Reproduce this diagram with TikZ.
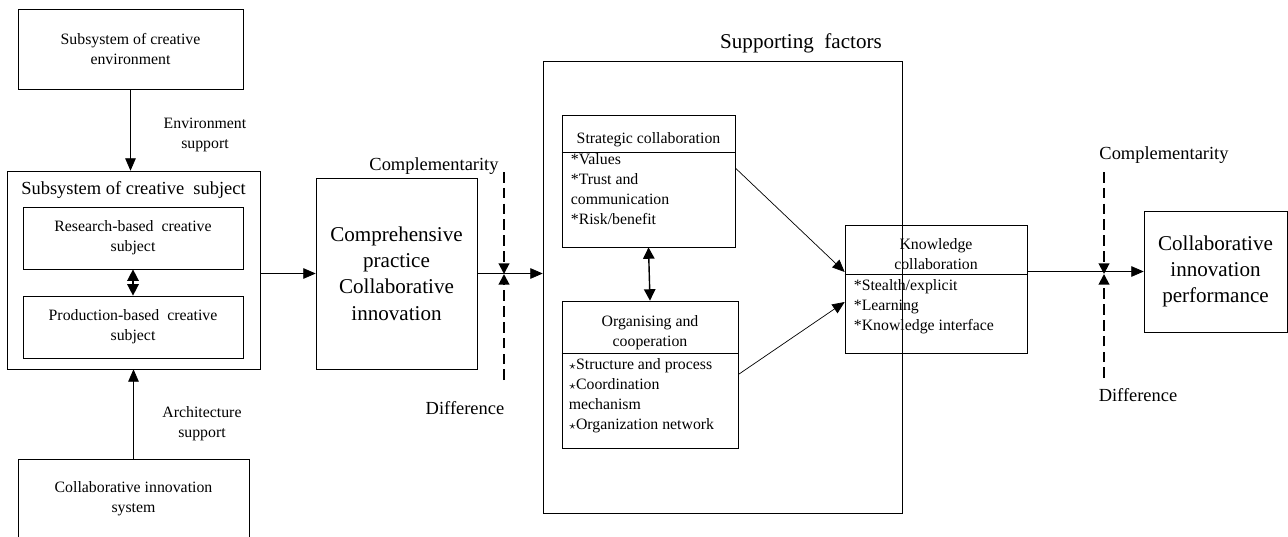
\documentclass[tikz,border=0pt]{standalone}
\usepackage{fontspec}
\setmainfont{Liberation Serif}
\usetikzlibrary{positioning}
\usetikzlibrary{arrows.meta}
\usetikzlibrary{calc}

\begin{document}
\begin{tikzpicture}
[x=0.02cm,y=-0.02cm,
  box/.style={shape=rectangle,draw=black,thin,inner sep=0pt},
  small/.style={font=\fontsize{9}{11.3}\selectfont,align=center},
  big/.style={font=\fontsize{12}{15}\selectfont,align=center},
  label/.style={font=\fontsize{10.5}{12}\selectfont},
  item/.style={font=\fontsize{9}{11.3}\selectfont,align=left,anchor=north west,inner sep=2pt},
  arrow/.style={thin,-{Triangle[length=7pt,width=6pt]}},
  dual/.style={thick,{Triangle[length=6.5pt,width=6.5pt]}-{Triangle[length=6.5pt,width=6.5pt]}},
  divide/.style={line width=1.1pt,dash pattern=on 6pt off 3pt,-{Triangle[length=6pt,width=6pt]}}]

\useasboundingbox (0,0) rectangle (1288,537);

% left column: subsystems
\node (env) [box,small,minimum width=4.5cm,minimum height=1.6cm] at (130.5,49) {Subsystem of creative\\environment};
\node (subj) [box,minimum width=5.06cm,minimum height=3.96cm] at (133.5,270) {};
\node (subjtitle) [font=\fontsize{10.5}{12}\selectfont] at (133.5,190) {Subsystem of creative\ \ subject};
\node (res) [box,small,minimum width=4.4cm,minimum height=1.24cm] at (133,238) {Research-based\ \ creative\\subject};
\node (prod) [box,small,minimum width=4.4cm,minimum height=1.24cm] at (133,327) {Production-based\ \ creative\\subject};
\node (arch) [box,small,minimum width=4.62cm,minimum height=1.6cm] at (133.5,499) {Collaborative innovation\\system};
\node (envsup) [small] at (205,135) {Environment\\support};
\node (archsup) [small] at (202,424) {Architecture\\support};

\draw [arrow] (env.south) -- (env.south |- subj.north);
\draw [arrow] (arch.north) -- (arch.north |- subj.south);
\draw [dual] (res.south) -- (prod.north);

% comprehensive practice
\node (comp) [box,big,minimum width=3.22cm,minimum height=3.82cm] at (396.5,273.5) {Comprehensive\\practice\\Collaborative\\innovation};
\draw [arrow] (subj.east |- comp.west) -- (comp.west);

% supporting factors
\node (big) [box,minimum width=7.18cm,minimum height=9.04cm] at (722.5,287) {};
\node (supp) [font=\fontsize{12}{14}\selectfont] at (801,43) {Supporting\ \ factors};

\node (strat) [box,minimum width=3.46cm,minimum height=2.64cm] at (648.5,181) {};
\node (strathead) [small] at (648.5,140) {Strategic collaboration};
\draw (strat.west |- 0,152) -- (strat.east |- 0,152);
\node (stratlist) [item] at (567,150) {*Values\\*Trust and\\communication\\*Risk/benefit};

\node (org) [box,minimum width=3.52cm,minimum height=2.94cm] at (650,374.5) {};
\node (orghead) [small] at (650,333) {Organising and\\cooperation};
\draw (org.west |- 0,353) -- (org.east |- 0,353);
\node (orglist) [item] at (565,355) {{\scriptsize$\star$}Structure and process\\{\scriptsize$\star$}Coordination\\mechanism\\{\scriptsize$\star$}Organization network};

\node (know) [box,minimum width=3.64cm,minimum height=2.56cm] at (936,289) {};
\node (knowhead) [small] at (936,254) {Knowledge\\collaboration};
\draw (know.west |- 0,274) -- (know.east |- 0,274);
\node (knowlist) [item] at (850,276) {*Stealth/explicit\\*Learning\\*Knowledge interface};

\draw [dual] (strat.south) -- (org.north);
\draw [arrow] ($(strat.east)+(0,-13)$) -- ($(know.west)+(0,-17)$);
\draw [arrow] (org.east) -- ($(know.west)+(0,13)$);

% performance
\node (perf) [box,big,minimum width=2.86cm,minimum height=2.42cm] at (1215.5,271.5) {Collaborative\\innovation\\performance};

% complementarity / difference
\coordinate (cross1) at (504,274);
\coordinate (top1) at (504,172);
\coordinate (bot1) at (504,380);
\coordinate (cross2) at (1104,274);
\coordinate (top2) at (1104,172);
\coordinate (bot2) at (1104,378);

\draw [arrow] (comp.east) -- (comp.east -| big.west);
\draw [arrow] (know.east |- perf.west) -- (perf.west);
\draw [divide] (top1) -- (cross1);
\draw [divide] (bot1) -- (cross1);
\draw [divide] (top2) -- (cross2);
\draw [divide] (bot2) -- (cross2);

\node (compl1) [label] at (434,166) {Complementarity};
\node (diff1) [label] at (465,408) {Difference};
\node (compl2) [label] at (1164,155) {Complementarity};
\node (diff2) [label] at (1138,395) {Difference};
\end{tikzpicture}
\end{document}
